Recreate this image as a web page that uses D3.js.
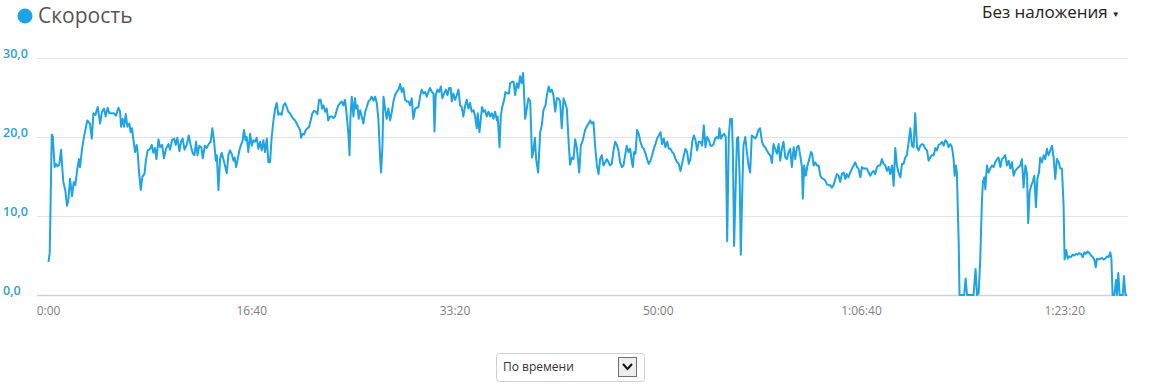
<!DOCTYPE html>
<html>
<head>
<meta charset="utf-8">
<script src="https://cdn.jsdelivr.net/npm/d3@7"></script>
<style>
  body { margin: 0; background: #fff; }
  text { font-family: "Open Sans", sans-serif; }
</style>
</head>
<body>
<div id="chart"></div>
<script>
// time of each sample, seconds from start
var times = [
  0,6,16,21,30,37,44,53,62,68,73,83,91,98,106,116,124,132,142,150,
  155,165,176,191,204,213,221,231,242,254,263,273,281,291,299,311,322,332,344,352,
  357,365,372,380,388,398,404,411,418,426,434,439,447,454,462,472,480,488,500,508,
  516,524,531,541,549,559,568,578,590,598,608,618,626,634,644,652,660,669,680,690,
  700,710,718,726,733,742,752,759,769,778,788,798,806,815,823,828,836,844,852,860,
  870,877,885,
  893,901,910,916,923,931,939,947,954,962,969,975,983,992,1000,1008,1016,1024,1033,1041,
  1049,1057,1065,1074,1082,1090,1098,1106,1115,1123,1131,1139,1147,1156,1164,1172,1180,1188,1197,1205,
  1213,1221,1229,1238,1243,1249,1257,1266,1274,1282,1290,1298,1307,1315,1323,1331,1339,1346,1353,1361,
  1369,1376,1385,1394,1402,1410,1418,1426,1435,1443,1451,1459,1467,1476,1481,1485,1492,1500,1508,1513,
  1520,1526,1533,1541,1549,1558,1566,1574,1582,1590,1599,1607,1615,1623,1631,1636,1643,1648,1656,1664,
  1672,1681,1689,1697,1705,1713,1722,1730,1738,1746,1754,1763,
  1771,1779,1787,1795,1804,1812,1820,1828,1836,1845,1853,1861,1869,1877,1886,1894,1899,1905,1914,1922,
  1930,1938,1946,1955,1963,1971,1979,1984,1992,2000,2009,2017,2025,2033,2041,2050,2058,2066,2074,2082,
  2091,2099,2107,2112,2120,2127,2133,2140,2148,2156,2165,2173,2181,2189,2197,2206,2210,2219,2225,2232,
  2242,2248,2258,2265,2271,2281,2288,2296,2304,2312,2320,2327,2335,2340,2345,2353,2361,2370,2379,2386,
  2393,2399,2409,2419,2427,2435,2445,2452,2461,2468,2476,2484,2493,2501,2509,2517,2525,2534,2542,2550,
  2558,2566,2575,2583,2591,2599,2611,2619,2629,2640,2648,
  2657,2665,2673,2681,2689,2698,2706,2714,2722,2730,2739,2747,2755,2763,2771,2780,2788,2796,2804,2812,
  2821,2829,2837,2845,2853,2862,2870,2875,2881,2888,2896,2904,2912,2921,2929,2937,2945,2953,2962,2970,
  2978,2986,2994,3003,3011,3019,3027,3035,3044,3052,3060,3068,3076,3085,3093,3101,3109,3117,3126,3134,
  3142,3150,3158,3167,3175,3183,3191,3199,3208,3216,3224,3232,3240,3249,3257,3265,3272,3280,3288,3296,
  3301,3308,3316,3324,3332,3339,3347,3354,3362,3367,3373,3380,3387,3393,3400,3406,3413,3419,3428,3436,
  3444,3452,3460,3469,3477,3485,3493,3501,3510,3518,3526,3534,
  3543,3551,3559,3567,3575,3584,3592,3600,3608,3616,3625,3633,3641,3649,3657,3666,3674,3682,3690,3698,
  3707,3711,3718,3726,3734,3743,3751,3757,3764,3772,3780,3789,3797,3805,3813,3821,3830,3838,3846,3854,
  3862,3871,3879,3887,3895,3903,3912,3920,3928,3936,3944,3953,3961,3969,3977,3985,3994,4002,4010,4018,
  4026,4035,4043,4051,4059,4067,4076,4084,4092,4100,4108,4117,4125,4133,4141,4150,4158,4166,4174,4182,
  4191,4199,4207,4215,4223,4232,4240,4248,4256,4264,4273,4281,4289,4297,4305,4314,4322,4330,4338,4346,
  4355,4363,4371,4379,4387,
  4396,4404,4412,4420,4428,4437,4445,4453,4458,4464,4469,4478,4482,4494,4505,4512,4519,4535,4551,4561,
  4568,4576,4584,4592,4597,4604,4609,4617,4625,4633,4642,4650,4658,4666,4674,4683,4691,4699,4707,4715,
  4724,4732,4740,4748,4756,4765,4773,4781,4789,4797,4806,4814,4820,4827,4834,4842,4850,4858,4865,4873,
  4879,4888,4896,4904,4912,4920,4929,4937,4945,4953,4961,4970,4978,4986,4994,4999,5007,5014,5022,5030,
  5039,5047,5055,5063,5071,5080,5088,5096,5104,5112,5121,5129,5137,5145,5152,5158,5167,5175,5183,5191,
  5199,5208,5216,5224,5229,5235,5244,5252,5257,5263,5270,5276,5285,5291,5298,5306
];

// speed, km/h
var speeds = [
  4.2,5.3,20.3,20.1,16.2,16.6,16.3,16.5,18.4,16.0,14.3,13.2,11.3,12.1,14.7,12.5,14.3,13.9,16.0,17.2,
  16.2,18.5,20.2,22.1,21.7,19.8,23.0,22.8,23.8,21.7,23.2,23.6,22.6,23.7,23.0,23.0,23.0,22.7,23.7,23.2,
  21.3,22.3,21.3,22.9,21.3,21.7,20.6,21.1,19.6,18.1,19.0,17.9,15.1,13.3,15.0,15.3,17.2,18.3,18.5,19.0,
  18.0,18.6,17.2,19.7,18.7,19.0,17.3,18.5,19.1,18.4,19.6,19.8,19.0,19.9,18.2,19.4,19.8,18.4,19.0,20.2,
  18.9,17.9,17.7,19.4,17.7,18.9,18.7,17.3,18.9,18.6,19.1,19.4,21.1,19.4,17.0,17.7,13.3,17.2,18.0,17.2,
  16.2,15.4,17.7,
  18.3,17.9,17.0,17.4,16.2,17.2,18.3,19.0,19.4,20.9,19.6,20.0,18.1,20.4,18.9,19.6,19.4,19.9,18.5,19.4,
  18.3,19.6,18.1,19.8,16.8,16.8,20.0,21.9,23.6,24.3,22.8,23.0,22.8,24.0,24.3,23.8,23.2,23.0,22.6,22.3,
  22.1,21.7,21.3,20.9,19.9,20.4,20.3,20.9,21.1,21.3,22.1,23.0,23.3,23.2,22.9,24.7,24.7,23.6,24.0,23.2,
  23.6,22.1,22.6,22.6,22.4,22.6,23.4,24.0,24.3,24.5,24.0,24.7,22.8,20.2,17.7,22.3,25.1,22.6,24.9,23.6,
  24.0,22.3,23.4,22.6,21.7,23.2,23.8,24.5,24.7,25.1,24.6,25.1,24.3,22.3,17.7,15.5,18.9,25.1,23.6,22.3,
  23.6,22.1,23.2,24.5,25.3,25.7,26.0,26.7,25.7,26.2,24.7,24.5,
  24.5,24.0,24.9,22.3,23.6,23.7,23.8,25.1,26.0,25.5,25.7,25.1,25.7,26.2,25.7,25.5,20.7,25.3,26.0,25.7,
  26.4,24.9,25.5,26.0,25.3,26.2,26.2,24.5,25.5,24.7,25.3,26.0,24.0,23.8,22.6,24.0,24.7,23.6,24.3,23.2,
  23.4,22.6,21.1,23.0,20.6,22.3,23.8,23.2,23.4,22.6,23.2,22.6,23.0,22.3,23.2,22.1,22.6,18.7,22.6,23.8,
  24.7,25.7,25.5,25.5,26.8,27.0,27.0,25.3,26.8,26.2,27.7,26.8,28.1,25.3,22.3,23.6,24.9,24.5,17.4,18.3,
  19.9,17.2,15.5,20.6,21.5,23.4,24.0,25.3,26.4,25.7,26.0,25.3,23.2,24.9,24.9,24.5,21.1,24.9,24.3,23.6,
  19.8,16.5,17.4,17.2,19.7,18.7,15.5,18.9,19.6,20.9,21.3,
  21.7,22.1,21.7,21.9,18.9,16.4,15.3,17.2,17.7,16.4,16.8,17.2,16.8,16.4,16.6,18.3,19.4,19.0,18.3,16.8,
  16.2,16.4,17.7,18.9,18.1,18.5,16.8,16.2,18.1,17.9,20.9,20.4,19.4,18.7,18.5,17.9,17.2,16.6,17.0,17.7,
  18.5,19.1,19.8,20.2,20.6,19.1,19.8,18.7,19.4,18.5,18.5,18.1,17.9,17.2,16.8,16.6,15.7,16.6,17.7,18.5,
  18.1,16.6,17.2,19.4,20.2,19.6,18.3,19.4,19.4,18.9,21.5,18.7,20.0,19.6,18.9,18.9,19.1,19.8,20.0,19.8,
  21.1,19.8,20.2,20.4,20.0,6.8,20.2,22.3,22.3,18.1,6.2,13.0,19.8,20.0,15.1,5.1,13.0,18.9,20.0,18.1,
  16.4,15.5,20.2,20.0,19.8,20.2,20.9,21.1,19.4,18.9,18.7,18.3,
  17.9,17.7,16.7,19.1,18.5,17.9,19.1,17.0,18.5,19.4,17.4,17.2,18.1,18.5,16.2,18.7,17.2,18.7,18.9,17.7,
  16.2,12.2,16.4,15.1,16.4,17.2,18.1,17.9,16.4,16.8,16.4,16.4,15.1,14.8,14.7,14.5,14.0,13.9,13.9,13.6,
  13.9,14.7,15.3,15.1,14.3,15.3,15.5,14.7,15.3,14.9,15.5,16.0,16.4,16.8,16.2,16.0,14.9,16.2,16.0,16.0,
  16.0,15.5,15.1,15.5,15.7,15.3,16.2,16.4,16.4,17.2,16.6,16.4,15.7,16.2,15.3,16.4,13.8,18.6,16.4,15.5,
  14.9,16.6,16.6,17.4,17.7,19.4,21.1,18.9,18.7,23.0,18.7,18.3,18.9,19.1,19.0,18.5,18.3,17.0,17.4,17.7,
  17.7,18.6,18.3,19.0,19.1,
  19.4,18.9,19.6,19.4,18.7,19.1,18.7,17.2,15.1,16.4,15.5,6.6,0,0,0,2.1,0,0,0,3.3,
  0,0.2,4.5,11.7,14.3,14.9,13.4,16.4,15.5,16.0,16.4,16.2,16.8,17.2,17.4,16.2,17.2,17.4,17.7,16.4,
  17.0,16.0,16.8,15.1,15.7,16.0,16.2,16.4,17.2,13.6,16.4,15.3,9.1,13.0,13.8,14.3,15.1,11.1,14.7,15.5,
  17.4,16.8,17.7,17.2,18.5,17.7,18.3,18.9,17.4,14.7,17.2,16.8,16.0,16.0,11.3,4.5,5.7,4.6,4.9,4.8,
  5.1,5.0,5.2,5.1,5.3,5.2,4.8,5.4,5.2,5.5,5.3,5.0,4.8,4.5,3.5,4.6,4.5,4.6,4.7,4.5,
  4.6,4.9,4.8,5.4,4.7,0,0,1.9,0,2.8,0,0,0,2.4,0,0
];

var yTicks = [0, 10, 20, 30];
var yTickLabels = ["0,0", "10,0", "20,0", "30,0"];
var xTicks = [0, 1000, 2000, 3000, 4000, 5000];
var xTickLabels = ["0:00", "16:40", "33:20", "50:00", "1:06:40", "1:23:20"];

var blue = "#1ea4e3";

var data = times.map(function(t, i) { return {t: t, v: speeds[i]}; });

var W = 1155, H = 390;
var svg = d3.select("#chart").append("svg")
  .attr("width", W)
  .attr("height", H);

var gridLeft = 37, gridRight = 1128;

var x = d3.scaleLinear()
  .domain([0, d3.max(times)])
  .range([48.5, 1127]);

var y = d3.scaleLinear()
  .domain([0, 30])
  .range([295, 58]);

// grid lines
svg.append("g").selectAll("line")
  .data(yTicks)
  .enter().append("line")
    .attr("x1", gridLeft)
    .attr("x2", gridRight)
    .attr("y1", function(d) { return Math.round(y(d)) + 0.5; })
    .attr("y2", function(d) { return Math.round(y(d)) + 0.5; })
    .attr("stroke", function(d) { return d === 0 ? "#cfd3d8" : "#e3e3e3"; })
    .attr("stroke-width", function(d) { return d === 0 ? 1.5 : 1; });

// y labels
svg.append("g").selectAll("text")
  .data(yTicks)
  .enter().append("text")
    .attr("x", 3)
    .attr("y", function(d) { return y(d) - 0.5; })
    .attr("fill", "#2a9fd8")
    .attr("font-size", "12.5px")
    .attr("font-weight", "600")
    .text(function(d, i) { return yTickLabels[i]; });

// x labels
svg.append("g").selectAll("text")
  .data(xTicks)
  .enter().append("text")
    .attr("x", function(d) { return x(d); })
    .attr("y", 315)
    .attr("text-anchor", "middle")
    .attr("fill", "#808080")
    .attr("font-size", "12px")
    .text(function(d, i) { return xTickLabels[i]; });

// the line
var line = d3.line()
  .x(function(d) { return x(d.t); })
  .y(function(d) { return y(d.v); });

svg.append("path")
  .datum(data)
  .attr("d", line)
  .attr("fill", "none")
  .attr("stroke", blue)
  .attr("stroke-width", 2)
  .attr("stroke-linejoin", "round");

// title
svg.append("circle")
  .attr("cx", 25)
  .attr("cy", 16)
  .attr("r", 7.5)
  .attr("fill", blue);
svg.append("text")
  .attr("x", 38)
  .attr("y", 23)
  .attr("fill", "#555")
  .attr("font-size", "21px")
  .text("Скорость");

// overlay selector on the right
var ov = svg.append("text")
  .attr("x", 982)
  .attr("y", 18)
  .attr("fill", "#222")
  .attr("font-size", "17px")
  .text("Без наложения");
ov.append("tspan")
  .attr("dx", 4)
  .attr("dy", -1)
  .attr("font-size", "8px")
  .text("▼");

// bottom dropdown
svg.append("rect")
  .attr("x", 496.5).attr("y", 353.5)
  .attr("width", 148).attr("height", 28)
  .attr("rx", 3)
  .attr("fill", "#fff")
  .attr("stroke", "#d0d0d0");
svg.append("text")
  .attr("x", 503)
  .attr("y", 371)
  .attr("fill", "#333")
  .attr("font-size", "12px")
  .text("По времени");
svg.append("rect")
  .attr("x", 618.5).attr("y", 357.5)
  .attr("width", 18).attr("height", 19)
  .attr("fill", "#eeeeee")
  .attr("stroke", "#707070");
svg.append("path")
  .attr("d", "M623,364 L627.5,369 L632,364")
  .attr("fill", "none")
  .attr("stroke", "#111")
  .attr("stroke-width", 2);
</script>
</body>
</html>
